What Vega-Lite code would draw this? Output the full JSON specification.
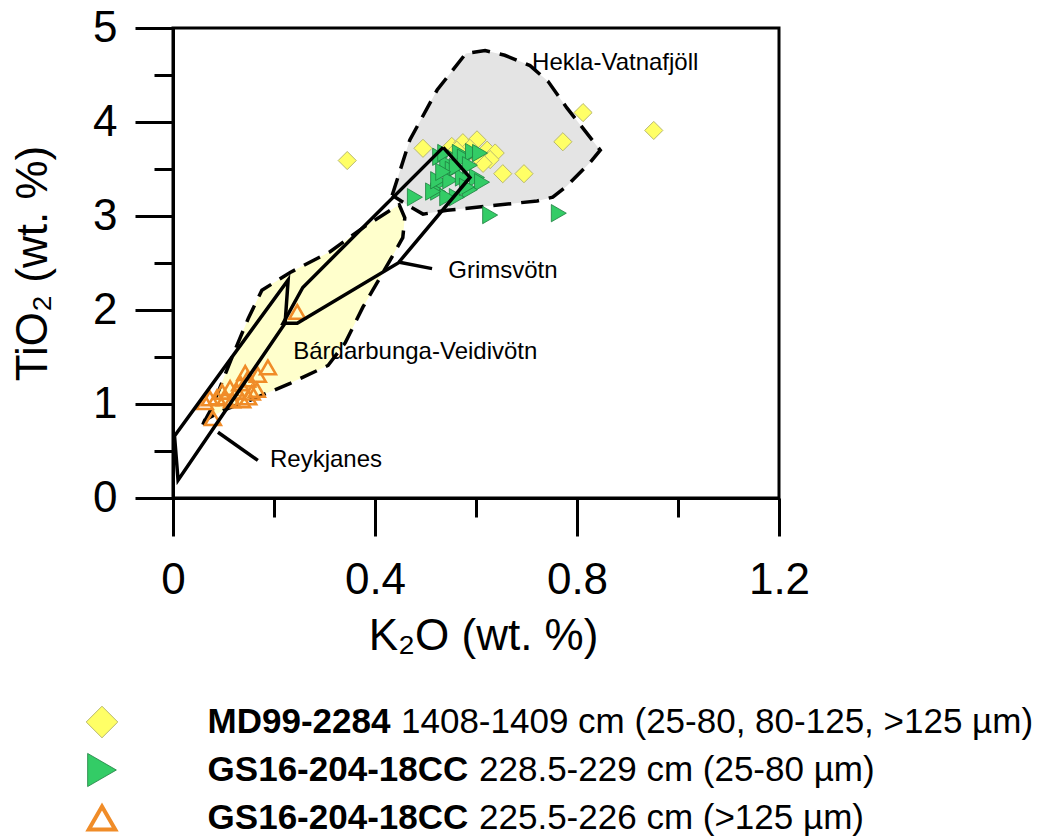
{
  "$schema": "https://vega.github.io/schema/vega-lite/v6.json",
  "width": 606,
  "height": 470,
  "autosize": {"type": "none"},
  "padding": {"left": 173, "top": 28, "right": 266, "bottom": 341},
  "background": "white",
  "config": {
    "view": {"stroke": "black", "strokeWidth": 3},
    "font": "Liberation Sans",
    "axis": {
      "domainColor": "black", "domainWidth": 3, "tickColor": "black", "tickWidth": 3,
      "labelColor": "black", "titleColor": "black", "labelFontSize": 44, "titleFontSize": 44,
      "titleFontWeight": "normal", "grid": false, "labelFont": "Liberation Sans", "titleFont": "Liberation Sans"
    }
  },
  "datasets": {
    "poly": [
      {"p": "H", "i": 1, "k2o": 0.434, "tio2": 3.22}, {"p": "H", "i": 2, "k2o": 0.469, "tio2": 3.81},
      {"p": "H", "i": 3, "k2o": 0.523, "tio2": 4.34}, {"p": "H", "i": 4, "k2o": 0.580, "tio2": 4.73},
      {"p": "H", "i": 5, "k2o": 0.618, "tio2": 4.76}, {"p": "H", "i": 6, "k2o": 0.657, "tio2": 4.71},
      {"p": "H", "i": 7, "k2o": 0.707, "tio2": 4.60}, {"p": "H", "i": 8, "k2o": 0.743, "tio2": 4.43},
      {"p": "H", "i": 9, "k2o": 0.780, "tio2": 4.15}, {"p": "H", "i": 10, "k2o": 0.846, "tio2": 3.70},
      {"p": "H", "i": 11, "k2o": 0.826, "tio2": 3.57}, {"p": "H", "i": 12, "k2o": 0.780, "tio2": 3.32},
      {"p": "H", "i": 13, "k2o": 0.752, "tio2": 3.20}, {"p": "H", "i": 14, "k2o": 0.721, "tio2": 3.16},
      {"p": "H", "i": 15, "k2o": 0.543, "tio2": 3.06}, {"p": "H", "i": 16, "k2o": 0.495, "tio2": 3.02},
      {"p": "H", "i": 17, "k2o": 0.469, "tio2": 3.10}, {"p": "H", "i": 18, "k2o": 0.434, "tio2": 3.22},
      {"p": "B", "i": 1, "k2o": 0.059, "tio2": 0.78}, {"p": "B", "i": 2, "k2o": 0.077, "tio2": 0.96},
      {"p": "B", "i": 3, "k2o": 0.117, "tio2": 1.50}, {"p": "B", "i": 4, "k2o": 0.149, "tio2": 1.91},
      {"p": "B", "i": 5, "k2o": 0.176, "tio2": 2.21}, {"p": "B", "i": 6, "k2o": 0.232, "tio2": 2.40},
      {"p": "B", "i": 7, "k2o": 0.311, "tio2": 2.62}, {"p": "B", "i": 8, "k2o": 0.380, "tio2": 2.89},
      {"p": "B", "i": 9, "k2o": 0.448, "tio2": 3.12}, {"p": "B", "i": 10, "k2o": 0.459, "tio2": 2.98},
      {"p": "B", "i": 11, "k2o": 0.455, "tio2": 2.77}, {"p": "B", "i": 12, "k2o": 0.430, "tio2": 2.53},
      {"p": "B", "i": 13, "k2o": 0.376, "tio2": 2.03}, {"p": "B", "i": 14, "k2o": 0.341, "tio2": 1.65},
      {"p": "B", "i": 15, "k2o": 0.307, "tio2": 1.41}, {"p": "B", "i": 16, "k2o": 0.232, "tio2": 1.22},
      {"p": "B", "i": 17, "k2o": 0.162, "tio2": 1.06}, {"p": "B", "i": 18, "k2o": 0.103, "tio2": 0.94},
      {"p": "B", "i": 19, "k2o": 0.063, "tio2": 0.83}, {"p": "B", "i": 20, "k2o": 0.059, "tio2": 0.78},
      {"p": "G", "i": 1, "k2o": 0.535, "tio2": 3.73}, {"p": "G", "i": 2, "k2o": 0.588, "tio2": 3.41},
      {"p": "G", "i": 3, "k2o": 0.446, "tio2": 2.50}, {"p": "G", "i": 4, "k2o": 0.246, "tio2": 1.86},
      {"p": "G", "i": 5, "k2o": 0.218, "tio2": 1.86}, {"p": "G", "i": 6, "k2o": 0.257, "tio2": 2.24},
      {"p": "G", "i": 7, "k2o": 0.535, "tio2": 3.73},
      {"p": "R", "i": 1, "k2o": 0.003, "tio2": 0.66}, {"p": "R", "i": 2, "k2o": 0.228, "tio2": 2.32},
      {"p": "R", "i": 3, "k2o": 0.222, "tio2": 1.86}, {"p": "R", "i": 4, "k2o": 0.010, "tio2": 0.19},
      {"p": "R", "i": 5, "k2o": 0.003, "tio2": 0.66},
      {"p": "LR", "i": 1, "k2o": 0.089, "tio2": 0.70}, {"p": "LR", "i": 2, "k2o": 0.168, "tio2": 0.40},
      {"p": "LG", "i": 1, "k2o": 0.446, "tio2": 2.51}, {"p": "LG", "i": 2, "k2o": 0.513, "tio2": 2.44}
    ],
    "labels": [
      {"label": "Hekla-Vatnafjöll", "k2o": 0.711, "tio2": 4.63},
      {"label": "Grimsvötn", "k2o": 0.545, "tio2": 2.41},
      {"label": "Bárdarbunga-Veidivötn", "k2o": 0.238, "tio2": 1.55},
      {"label": "Reykjanes", "k2o": 0.192, "tio2": 0.40}
    ],
    "pts": [
      {"g": "A", "k2o": 0.345, "tio2": 3.59}, {"g": "A", "k2o": 0.495, "tio2": 3.72},
      {"g": "A", "k2o": 0.812, "tio2": 4.10}, {"g": "A", "k2o": 0.952, "tio2": 3.91},
      {"g": "A", "k2o": 0.772, "tio2": 3.79}, {"g": "A", "k2o": 0.695, "tio2": 3.45},
      {"g": "A", "k2o": 0.653, "tio2": 3.45}, {"g": "A", "k2o": 0.552, "tio2": 3.74},
      {"g": "A", "k2o": 0.574, "tio2": 3.78}, {"g": "A", "k2o": 0.602, "tio2": 3.81},
      {"g": "A", "k2o": 0.588, "tio2": 3.72}, {"g": "A", "k2o": 0.622, "tio2": 3.70},
      {"g": "A", "k2o": 0.638, "tio2": 3.67}, {"g": "A", "k2o": 0.628, "tio2": 3.60},
      {"g": "A", "k2o": 0.614, "tio2": 3.56}, {"g": "A", "k2o": 0.543, "tio2": 3.49},
      {"g": "A", "k2o": 0.562, "tio2": 3.70}, {"g": "A", "k2o": 0.600, "tio2": 3.65},
      {"g": "B", "k2o": 0.529, "tio2": 3.63}, {"g": "B", "k2o": 0.543, "tio2": 3.56},
      {"g": "B", "k2o": 0.529, "tio2": 3.35}, {"g": "B", "k2o": 0.525, "tio2": 3.26},
      {"g": "B", "k2o": 0.554, "tio2": 3.49}, {"g": "B", "k2o": 0.568, "tio2": 3.67},
      {"g": "B", "k2o": 0.578, "tio2": 3.62}, {"g": "B", "k2o": 0.594, "tio2": 3.68},
      {"g": "B", "k2o": 0.608, "tio2": 3.67}, {"g": "B", "k2o": 0.602, "tio2": 3.41},
      {"g": "B", "k2o": 0.612, "tio2": 3.36}, {"g": "B", "k2o": 0.588, "tio2": 3.28},
      {"g": "B", "k2o": 0.562, "tio2": 3.20}, {"g": "B", "k2o": 0.543, "tio2": 3.20},
      {"g": "B", "k2o": 0.515, "tio2": 3.26}, {"g": "B", "k2o": 0.525, "tio2": 3.38},
      {"g": "B", "k2o": 0.549, "tio2": 3.38}, {"g": "B", "k2o": 0.574, "tio2": 3.41},
      {"g": "B", "k2o": 0.562, "tio2": 3.52}, {"g": "B", "k2o": 0.539, "tio2": 3.67},
      {"g": "B", "k2o": 0.582, "tio2": 3.31}, {"g": "B", "k2o": 0.535, "tio2": 3.47},
      {"g": "B", "k2o": 0.588, "tio2": 3.54}, {"g": "B", "k2o": 0.479, "tio2": 3.20},
      {"g": "B", "k2o": 0.628, "tio2": 3.01}, {"g": "B", "k2o": 0.764, "tio2": 3.03},
      {"g": "C", "k2o": 0.188, "tio2": 1.39}, {"g": "C", "k2o": 0.079, "tio2": 0.85},
      {"g": "C", "k2o": 0.143, "tio2": 1.33}, {"g": "C", "k2o": 0.147, "tio2": 1.26},
      {"g": "C", "k2o": 0.168, "tio2": 1.31}, {"g": "C", "k2o": 0.166, "tio2": 1.15},
      {"g": "C", "k2o": 0.113, "tio2": 1.17}, {"g": "C", "k2o": 0.127, "tio2": 1.13},
      {"g": "C", "k2o": 0.087, "tio2": 1.07}, {"g": "C", "k2o": 0.073, "tio2": 1.06},
      {"g": "C", "k2o": 0.063, "tio2": 1.02}, {"g": "C", "k2o": 0.103, "tio2": 1.06},
      {"g": "C", "k2o": 0.117, "tio2": 1.04}, {"g": "C", "k2o": 0.137, "tio2": 1.04},
      {"g": "C", "k2o": 0.149, "tio2": 1.07}, {"g": "C", "k2o": 0.097, "tio2": 1.13},
      {"g": "C", "k2o": 0.133, "tio2": 1.22}, {"g": "C", "k2o": 0.156, "tio2": 1.12},
      {"g": "C", "k2o": 0.246, "tio2": 1.98}
    ],
    "leg": [
      {"g": "A", "name": "MD99-2284", "desc": "1408-1409 cm (25-80, 80-125, >125 µm)"},
      {"g": "B", "name": "GS16-204-18CC", "desc": "228.5-229 cm (25-80 µm)"},
      {"g": "C", "name": "GS16-204-18CC", "desc": "225.5-226 cm (>125 µm)"}
    ]
  },
  "resolve": {"scale": {"y": "independent"}},
  "layer": [
    {
      "layer": [
        {
          "data": {"name": "poly"},
          "transform": [{"filter": "datum.p === 'H'"}],
          "mark": {"type": "line", "fill": "#e4e4e4", "stroke": "black", "strokeWidth": 3.5, "strokeDash": [18, 10]},
          "encoding": {
            "x": {"field": "k2o", "type": "quantitative", "scale": {"domain": [0, 1.2], "nice": false, "zero": false},
              "axis": {
                "title": "K₂O (wt. %)", "values": [0, 0.2, 0.4, 0.6, 0.8, 1, 1.2],
                "labelExpr": "round(datum.value * 10) % 4 === 0 ? format(datum.value, '~g') : ''",
                "tickSize": {"condition": {"test": "round(datum.value * 10) % 4 === 0", "value": 38}, "value": 19},
                "labelPadding": 22, "titlePadding": 12, "titleX": 310, "labelFlush": false, "labelOverlap": false
              }},
            "y": {"field": "tio2", "type": "quantitative", "scale": {"domain": [0, 5], "nice": false, "zero": false},
              "axis": {
                "title": "TiO₂ (wt. %)", "values": [0, 0.5, 1, 1.5, 2, 2.5, 3, 3.5, 4, 4.5, 5],
                "labelExpr": "datum.value % 1 === 0 ? format(datum.value, 'd') : ''",
                "tickSize": {"condition": {"test": "datum.value % 1 === 0", "value": 38}, "value": 19},
                "labelPadding": 18, "titlePadding": 37, "labelFlush": false, "labelOverlap": false
              }},
            "order": {"field": "i", "type": "quantitative"}
          }
        },
        {
          "data": {"name": "poly"},
          "transform": [{"filter": "datum.p === 'B'"}],
          "mark": {"type": "line", "fill": "#ffffcc", "stroke": "black", "strokeWidth": 3.5, "strokeDash": [18, 10]},
          "encoding": {
            "x": {"field": "k2o", "type": "quantitative"},
            "y": {"field": "tio2", "type": "quantitative"},
            "order": {"field": "i", "type": "quantitative"}
          }
        },
        {
          "data": {"name": "pts"},
          "transform": [{"filter": "datum.g === 'A'"}],
          "mark": {"type": "point", "shape": "diamond", "filled": true, "fill": "#ffff66", "stroke": "#b8b870", "strokeWidth": 1, "size": 330, "opacity": 1},
          "encoding": {
            "x": {"field": "k2o", "type": "quantitative"},
            "y": {"field": "tio2", "type": "quantitative"}
          }
        },
        {
          "data": {"name": "pts"},
          "transform": [{"filter": "datum.g === 'B'"}],
          "mark": {"type": "point", "shape": "triangle-right", "filled": true, "fill": "#33cc66", "stroke": "#1e7f40", "strokeWidth": 0.8, "size": 300, "opacity": 1},
          "encoding": {
            "x": {"field": "k2o", "type": "quantitative"},
            "y": {"field": "tio2", "type": "quantitative"}
          }
        },
        {
          "data": {"name": "pts"},
          "transform": [{"filter": "datum.g === 'C'"}],
          "mark": {"type": "point", "shape": "triangle-up", "filled": false, "fill": "transparent", "stroke": "#f08c28", "strokeWidth": 2.6, "size": 250, "opacity": 1},
          "encoding": {
            "x": {"field": "k2o", "type": "quantitative"},
            "y": {"field": "tio2", "type": "quantitative"}
          }
        },
        {
          "data": {"name": "poly"},
          "transform": [{"filter": "datum.p === 'G' || datum.p === 'R' || datum.p === 'LR' || datum.p === 'LG'"}],
          "mark": {"type": "line", "stroke": "black", "strokeWidth": 3.5},
          "encoding": {
            "x": {"field": "k2o", "type": "quantitative"},
            "y": {"field": "tio2", "type": "quantitative"},
            "detail": {"field": "p", "type": "nominal"},
            "order": {"field": "i", "type": "quantitative"}
          }
        },
        {
          "data": {"name": "labels"},
          "mark": {"type": "text", "align": "left", "baseline": "middle", "fontSize": 24, "font": "Liberation Sans", "color": "black"},
          "encoding": {
            "x": {"field": "k2o", "type": "quantitative"},
            "y": {"field": "tio2", "type": "quantitative"},
            "text": {"field": "label"}
          }
        }
      ]
    },
    {
      "data": {"name": "leg"},
      "encoding": {
        "y": {"field": "g", "type": "nominal", "scale": {"type": "point", "domain": ["A", "B", "C"], "range": [694, 790], "padding": 0}, "axis": null}
      },
      "layer": [
        {
          "transform": [{"filter": "datum.g === 'A'"}],
          "mark": {"type": "point", "shape": "diamond", "filled": true, "fill": "#ffff66", "stroke": "#b8b870", "strokeWidth": 1, "size": 1000, "opacity": 1},
          "encoding": {"x": {"datum": -0.1406, "type": "quantitative"}}
        },
        {
          "transform": [{"filter": "datum.g === 'B'"}],
          "mark": {"type": "point", "shape": "triangle-right", "filled": true, "fill": "#33cc66", "stroke": "#1e7f40", "strokeWidth": 0.8, "size": 1100, "opacity": 1},
          "encoding": {"x": {"datum": -0.1406, "type": "quantitative"}}
        },
        {
          "transform": [{"filter": "datum.g === 'C'"}],
          "mark": {"type": "point", "shape": "triangle-up", "filled": false, "fill": "transparent", "stroke": "#f08c28", "strokeWidth": 4, "size": 700, "opacity": 1},
          "encoding": {"x": {"datum": -0.1406, "type": "quantitative"}}
        },
        {
          "mark": {"type": "text", "align": "left", "baseline": "middle", "fontSize": 35, "font": "Liberation Sans", "fontWeight": "bold", "color": "black"},
          "encoding": {"x": {"datum": 0.0685, "type": "quantitative"}, "text": {"field": "name"}}
        },
        {
          "transform": [{"filter": "datum.g === 'A'"}],
          "mark": {"type": "text", "align": "left", "baseline": "middle", "fontSize": 35, "font": "Liberation Sans", "color": "black"},
          "encoding": {"x": {"datum": 0.4515, "type": "quantitative"}, "text": {"field": "desc"}}
        },
        {
          "transform": [{"filter": "datum.g !== 'A'"}],
          "mark": {"type": "text", "align": "left", "baseline": "middle", "fontSize": 35, "font": "Liberation Sans", "color": "black"},
          "encoding": {"x": {"datum": 0.606, "type": "quantitative"}, "text": {"field": "desc"}}
        }
      ]
    }
  ]
}
